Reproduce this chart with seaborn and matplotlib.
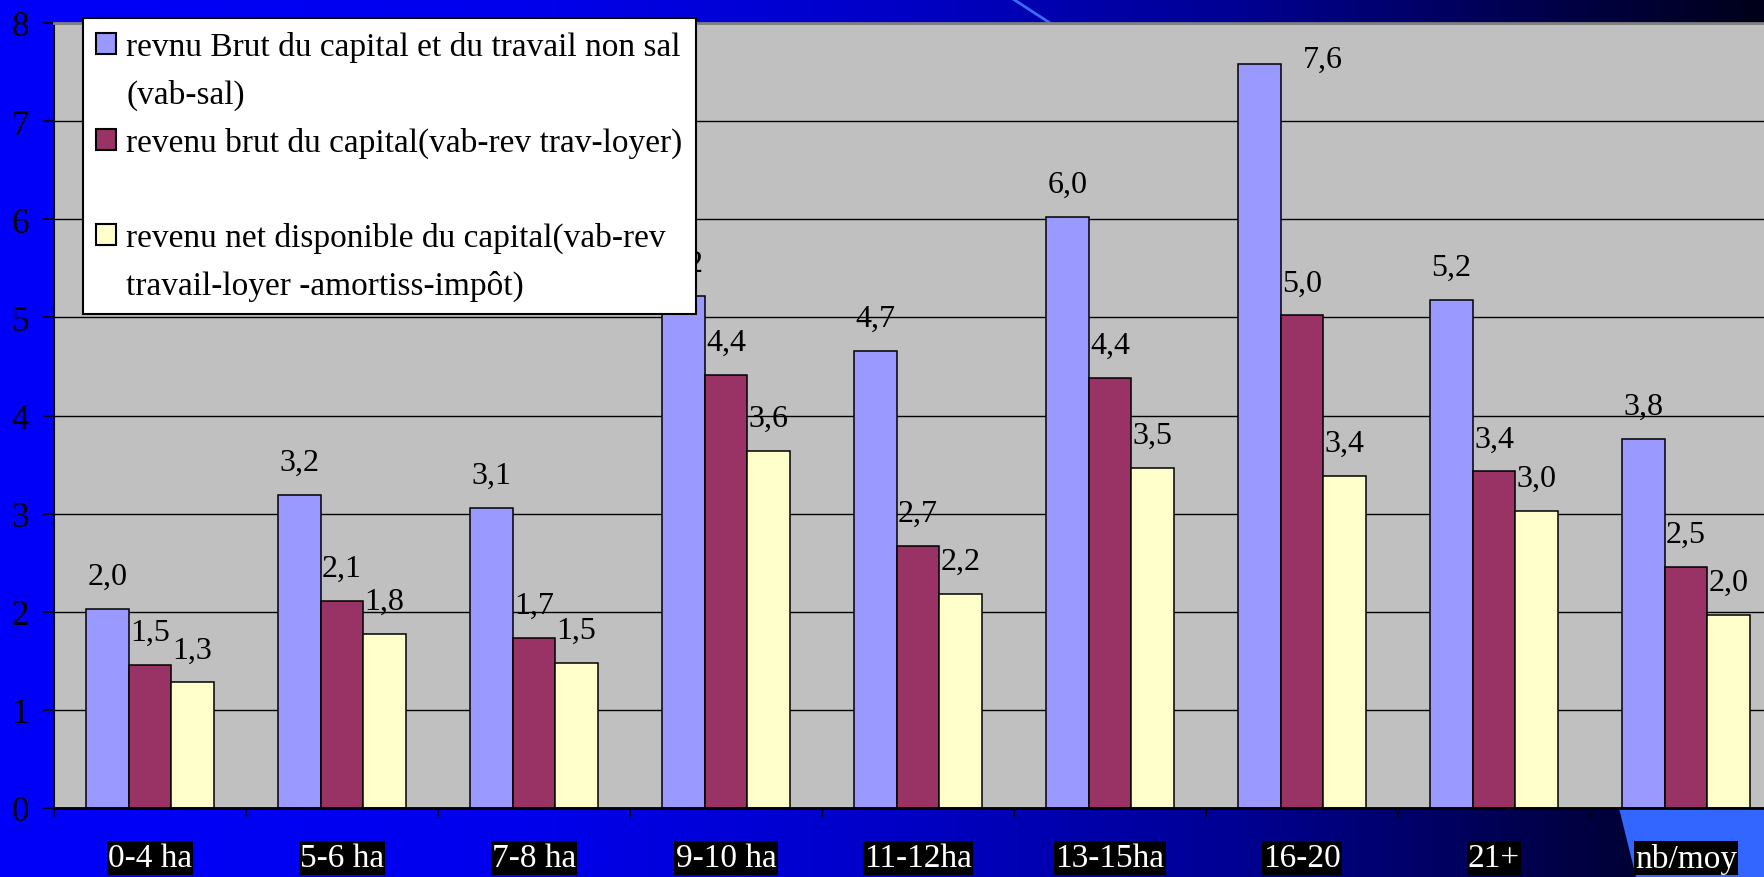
import numpy as np
import pandas as pd
import matplotlib
matplotlib.use("Agg")
import matplotlib.pyplot as plt
import seaborn as sns
from matplotlib.patches import Polygon, Rectangle
from matplotlib.lines import Line2D
from matplotlib.colors import LinearSegmentedColormap

# ---------------- data ----------------
categories = ["0-4 ha", "5-6 ha", "7-8 ha", "9-10 ha", "11-12ha",
              "13-15ha", "16-20", "21+", "nb/moy"]
series_names = [
    "revnu Brut du capital et du travail non sal\n(vab-sal)",
    "revenu brut du capital(vab-rev trav-loyer)\n",
    "revenu net disponible du capital(vab-rev\ntravail-loyer -amortiss-impôt)",
]
revenu_brut_cap_trav = [2.03, 3.19, 3.06, 5.22, 4.66, 6.02, 7.58, 5.18, 3.76]
revenu_brut_cap = [1.46, 2.11, 1.73, 4.41, 2.67, 4.38, 5.02, 3.43, 2.46]
revenu_net_disp = [1.28, 1.77, 1.48, 3.64, 2.18, 3.47, 3.38, 3.03, 1.97]
y_ticks = [0, 1, 2, 3, 4, 5, 6, 7, 8]
colors = ["#9999FF", "#993366", "#FFFFCC"]

df = pd.DataFrame({
    "category": categories * 3,
    "series": [series_names[0]] * 9 + [series_names[1]] * 9 + [series_names[2]] * 9,
    "value": revenu_brut_cap_trav + revenu_brut_cap + revenu_net_disp,
})

plt.rcParams["font.family"] = ["Liberation Serif", "DejaVu Serif"]

W, H = 1764, 878
fig = plt.figure(figsize=(W / 100, H / 100), dpi=100)

# ---------------- background ----------------
bg = fig.add_axes([0, 0, 1, 1], zorder=-10)
cmap = LinearSegmentedColormap.from_list(
    "bg", [(0.0, "#0000FA"), (0.3, "#0000EC"), (0.5, "#0000C8"),
           (0.7, "#000094"), (0.85, "#000055"), (1.0, "#00001A")])
grad = np.linspace(0, 1, 512).reshape(1, -1)
bg.imshow(grad, extent=[0, 1, 0, 1], aspect="auto", cmap=cmap)
bg.add_patch(Polygon([(1619 / W, 1 - 809 / H), (1636 / W, 0), (1, 0), (1, 1 - 809 / H)],
                     closed=True, facecolor="#3366FF", edgecolor="none"))
bg.add_line(Line2D([1013 / W, 1050 / W], [1, 1 - 24 / H], color="#3A6CF5", lw=2))
bg.set_xlim(0, 1)
bg.set_ylim(0, 1)
bg.axis("off")

# ---------------- main axes ----------------
ax = fig.add_axes([54 / W, 69 / H, 1728 / W, 785 / H], zorder=1)
ax.set_facecolor("#C0C0C0")
sns.barplot(data=df, x="category", y="value", hue="series", palette=colors,
            width=0.664, saturation=1, edgecolor="black", linewidth=1.1,
            legend=False, ax=ax, zorder=2)

ax.set_xlim(-0.5, 8.5)
ax.set_ylim(0, 8)
ax.set_yticks(y_ticks)
ax.set_yticklabels([str(t) for t in y_ticks])
ax.yaxis.grid(True, color="black", lw=1.0)
ax.xaxis.grid(False)
ax.set_axisbelow(True)
ax.set_xlabel("")
ax.set_ylabel("")

ax.spines["right"].set_visible(False)
ax.spines["top"].set_color("#808080")
ax.spines["top"].set_linewidth(2)
ax.spines["left"].set_color("black")
ax.spines["left"].set_linewidth(1.5)
ax.spines["bottom"].set_color("black")
ax.spines["bottom"].set_linewidth(2)

ax.tick_params(axis="y", length=8, width=1.2, pad=10, labelsize=25, colors="black")
ax.set_xticks(range(len(categories)))
ax.set_xticklabels(categories)
ax.set_xticks(np.arange(-0.5, len(categories), 1.0), minor=True)
ax.tick_params(axis="x", which="major", length=0, pad=25, labelsize=24, labelcolor="white")
ax.tick_params(axis="x", which="minor", length=7, width=1.2, color="black")
for lab in ax.get_xticklabels():
    lab.set_bbox(dict(facecolor="black", edgecolor="none", pad=1.0))

# data labels
ymax = ax.get_ylim()[1]
for cont in ax.containers:
    labs = [f"{v:.1f}".replace(".", ",") for v in cont.datavalues]
    texts = ax.bar_label(cont, labels=labs, padding=13, fontsize=23, color="black")
    for bar, txt, v in zip(cont.patches, texts, cont.datavalues):
        if v + 0.5 > ymax:
            # label would leave the plot: place it beside the bar
            bw = bar.get_width()
            txt.xy = (bar.get_x() + bw * 2.0, v + 0.05)
            txt.xyann = (0, 0)
            txt.set_va("center")
            txt.set_ha("center")

# ---------------- legend ----------------
handles, labels = [], []
for name, col in zip(series_names, colors):
    lines = name.split("\n")
    for i, ln in enumerate(lines):
        if i == 0:
            handles.append(Rectangle((0, 0), 1, 1, facecolor=col, edgecolor="black", lw=1.5))
        else:
            handles.append(Rectangle((0, 0), 1, 1, facecolor="none", edgecolor="none"))
        labels.append(ln)

leg = ax.legend(handles, labels, loc="upper left",
                bbox_to_anchor=(83 / W, 1 - 19 / H), bbox_transform=fig.transFigure,
                borderaxespad=0, fancybox=False, frameon=True, framealpha=1,
                facecolor="white", edgecolor="black", fontsize=24,
                handlelength=0.6, handleheight=0.6, handletextpad=0.3,
                borderpad=0.4, labelspacing=0.5)
leg.get_frame().set_linewidth(1.5)
leg.set_zorder(10)

fig.savefig("out.png", dpi=100)
